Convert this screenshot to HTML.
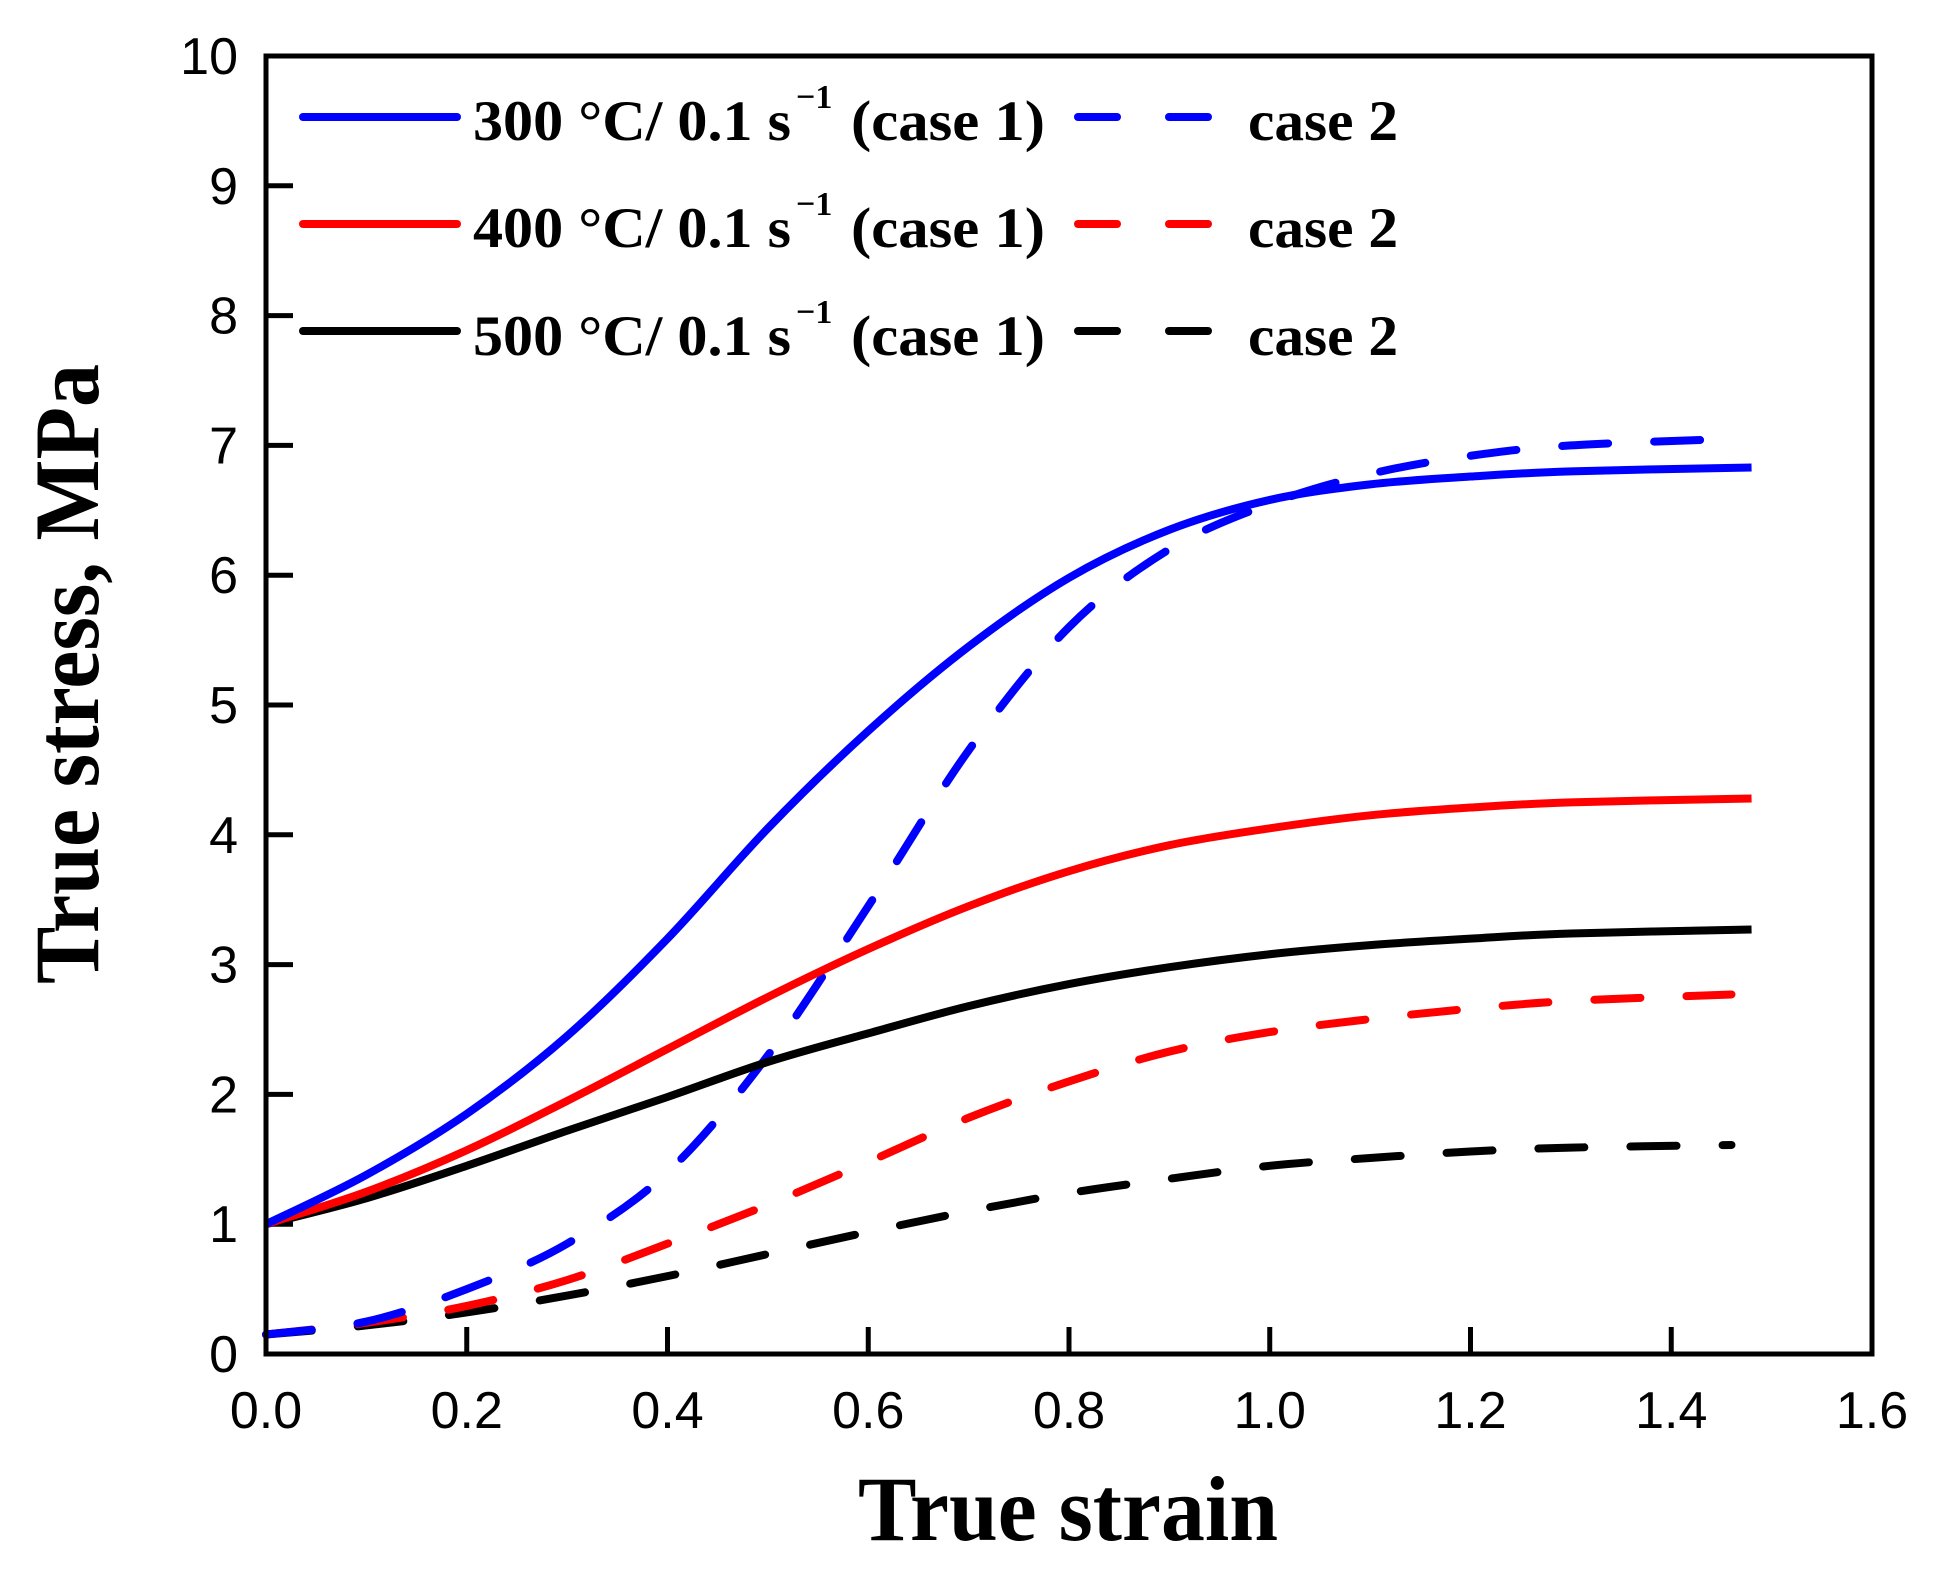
<!DOCTYPE html>
<html><head><meta charset="utf-8"><style>
html,body{margin:0;padding:0;background:#fff;}
svg{display:block;}
</style></head><body>
<svg id="chart" width="1934" height="1580" viewBox="0 0 1934 1580" xmlns="http://www.w3.org/2000/svg">
<rect width="1934" height="1580" fill="#fff"/>
<g id="ticks"></g>
<g id="series"></g>
<rect x="266" y="56" width="1606" height="1298" fill="none" stroke="#000" stroke-width="5"/>
<text x="1068" y="1540" font-family="Liberation Serif, serif" font-weight="bold" font-size="92" text-anchor="middle" textLength="420" lengthAdjust="spacingAndGlyphs">True strain</text>
<text transform="translate(98,674) rotate(-90)" font-family="Liberation Serif, serif" font-weight="bold" font-size="92" text-anchor="middle" textLength="620" lengthAdjust="spacingAndGlyphs">True stress, MPa</text>
<g font-family="Liberation Serif, serif" font-weight="bold">
 <g>
  <line x1="303" y1="117" x2="457" y2="117" stroke="#0000ff" stroke-width="8" stroke-linecap="round"/>
  <text x="473" y="140" font-size="57" textLength="318" lengthAdjust="spacingAndGlyphs">300 °C/ 0.1 s</text>
  <text x="796" y="108" font-size="34">−1</text>
  <text x="851" y="140" font-size="57" textLength="194" lengthAdjust="spacingAndGlyphs">(case 1)</text>
  <line x1="1078" y1="117" x2="1117" y2="117" stroke="#0000ff" stroke-width="8" stroke-linecap="round"/>
  <line x1="1169" y1="117" x2="1208" y2="117" stroke="#0000ff" stroke-width="8" stroke-linecap="round"/>
  <text x="1248" y="140" font-size="57" textLength="150" lengthAdjust="spacingAndGlyphs">case 2</text>
 </g>
 <g>
  <line x1="303" y1="224" x2="457" y2="224" stroke="#ff0000" stroke-width="8" stroke-linecap="round"/>
  <text x="473" y="247" font-size="57" textLength="318" lengthAdjust="spacingAndGlyphs">400 °C/ 0.1 s</text>
  <text x="796" y="215" font-size="34">−1</text>
  <text x="851" y="247" font-size="57" textLength="194" lengthAdjust="spacingAndGlyphs">(case 1)</text>
  <line x1="1078" y1="224" x2="1117" y2="224" stroke="#ff0000" stroke-width="8" stroke-linecap="round"/>
  <line x1="1169" y1="224" x2="1208" y2="224" stroke="#ff0000" stroke-width="8" stroke-linecap="round"/>
  <text x="1248" y="247" font-size="57" textLength="150" lengthAdjust="spacingAndGlyphs">case 2</text>
 </g>
 <g>
  <line x1="303" y1="331" x2="457" y2="331" stroke="#000" stroke-width="8" stroke-linecap="round"/>
  <text x="473" y="355" font-size="57" textLength="318" lengthAdjust="spacingAndGlyphs">500 °C/ 0.1 s</text>
  <text x="796" y="323" font-size="34">−1</text>
  <text x="851" y="355" font-size="57" textLength="194" lengthAdjust="spacingAndGlyphs">(case 1)</text>
  <line x1="1078" y1="331" x2="1117" y2="331" stroke="#000" stroke-width="8" stroke-linecap="round"/>
  <line x1="1169" y1="331" x2="1208" y2="331" stroke="#000" stroke-width="8" stroke-linecap="round"/>
  <text x="1248" y="355" font-size="57" textLength="150" lengthAdjust="spacingAndGlyphs">case 2</text>
 </g>
</g>
</svg>
<script>
const strain = [0,0.1,0.2,0.3,0.4,0.5,0.6,0.7,0.8,0.9,1.0,1.1,1.2,1.3,1.48];
const strainDash = [0,0.1,0.2,0.3,0.4,0.5,0.6,0.7,0.8,0.9,1.0,1.1,1.2,1.3,1.46];
const s300c1 = [1,1.38,1.85,2.45,3.2,4.05,4.8,5.45,5.98,6.35,6.58,6.7,6.76,6.8,6.83];
const s400c1 = [1,1.25,1.57,1.95,2.35,2.75,3.12,3.45,3.72,3.92,4.05,4.15,4.21,4.25,4.28];
const s500c1 = [1,1.2,1.45,1.72,1.98,2.25,2.47,2.68,2.85,2.98,3.08,3.15,3.2,3.24,3.27];
const s300c2 = [0.15,0.25,0.5,0.85,1.4,2.3,3.45,4.65,5.6,6.2,6.55,6.78,6.92,7.0,7.05];
const s400c2 = [0.15,0.24,0.37,0.57,0.85,1.15,1.48,1.82,2.1,2.33,2.48,2.58,2.66,2.72,2.77];
const s500c2 = [0.15,0.22,0.32,0.45,0.6,0.77,0.94,1.1,1.24,1.35,1.45,1.51,1.56,1.59,1.61];
const xTicks = [0,0.2,0.4,0.6,0.8,1.0,1.2,1.4,1.6];
const xTickLabels = ["0.0","0.2","0.4","0.6","0.8","1.0","1.2","1.4","1.6"];
const yTicks = [0,1,2,3,4,5,6,7,8,9,10];

const X0=266,X1=1872,Y0=1354,Y1=56;
function xs(v){return X0+(X1-X0)*v/1.6;}
function ys(v){return Y0-(Y0-Y1)*v/10;}
const NS="http://www.w3.org/2000/svg";
const tg=document.getElementById('ticks');
xTicks.forEach((t,i)=>{
  const x=xs(t);
  if(i>0&&i<xTicks.length-1){
    const l=document.createElementNS(NS,'line');
    l.setAttribute('x1',x);l.setAttribute('x2',x);l.setAttribute('y1',Y0);l.setAttribute('y2',Y0-27);
    l.setAttribute('stroke','#000');l.setAttribute('stroke-width','5');
    
    
    tg.appendChild(l);
  }
  const tx=document.createElementNS(NS,'text');
  tx.setAttribute('x',x);tx.setAttribute('y',1428);tx.setAttribute('text-anchor','middle');
  tx.setAttribute('font-family','Liberation Sans, sans-serif');tx.setAttribute('font-size','52');
  tx.textContent=xTickLabels[i];
  
  
  tg.appendChild(tx);
});
yTicks.forEach((t,i)=>{
  const y=ys(t);
  if(i>0&&i<yTicks.length-1){
    const l=document.createElementNS(NS,'line');
    l.setAttribute('x1',X0);l.setAttribute('x2',X0+27);l.setAttribute('y1',y);l.setAttribute('y2',y);
    l.setAttribute('stroke','#000');l.setAttribute('stroke-width','5');
    
    
    tg.appendChild(l);
  }
  const tx=document.createElementNS(NS,'text');
  tx.setAttribute('x',238);tx.setAttribute('y',y+18);tx.setAttribute('text-anchor','end');
  tx.setAttribute('font-family','Liberation Sans, sans-serif');tx.setAttribute('font-size','52');
  tx.textContent=String(t);
  
  
  tg.appendChild(tx);
});
function smoothPath(xv,yv){
  const p=xv.map((v,i)=>[xs(v),ys(yv[i])]);
  let d='M'+p[0][0]+','+p[0][1];
  for(let i=0;i<p.length-1;i++){
    const p0=p[i-1]||p[i],p1=p[i],p2=p[i+1],p3=p[i+2]||p2;
    const c1=[p1[0]+(p2[0]-p0[0])/6,p1[1]+(p2[1]-p0[1])/6];
    const c2=[p2[0]-(p3[0]-p1[0])/6,p2[1]-(p3[1]-p1[1])/6];
    d+=' C'+c1[0]+','+c1[1]+' '+c2[0]+','+c2[1]+' '+p2[0]+','+p2[1];
  }
  return d;
}
const sg=document.getElementById('series');
function addSeries(xv,yv,color,dashed,name){
  const pa=document.createElementNS(NS,'path');
  pa.setAttribute('d',smoothPath(xv,yv));
  pa.setAttribute('fill','none');pa.setAttribute('stroke',color);pa.setAttribute('stroke-width','8');
  if(dashed){pa.setAttribute('stroke-dasharray','46 46');pa.setAttribute('stroke-linecap','round');}
  
  
  sg.appendChild(pa);
}
addSeries(strainDash,s500c2,'#000',true,'line-500-case2');
addSeries(strainDash,s400c2,'#ff0000',true,'line-400-case2');
addSeries(strainDash,s300c2,'#0000ff',true,'line-300-case2');
addSeries(strain,s500c1,'#000',false,'line-500-case1');
addSeries(strain,s400c1,'#ff0000',false,'line-400-case1');
addSeries(strain,s300c1,'#0000ff',false,'line-300-case1');
</script>
</body></html>
